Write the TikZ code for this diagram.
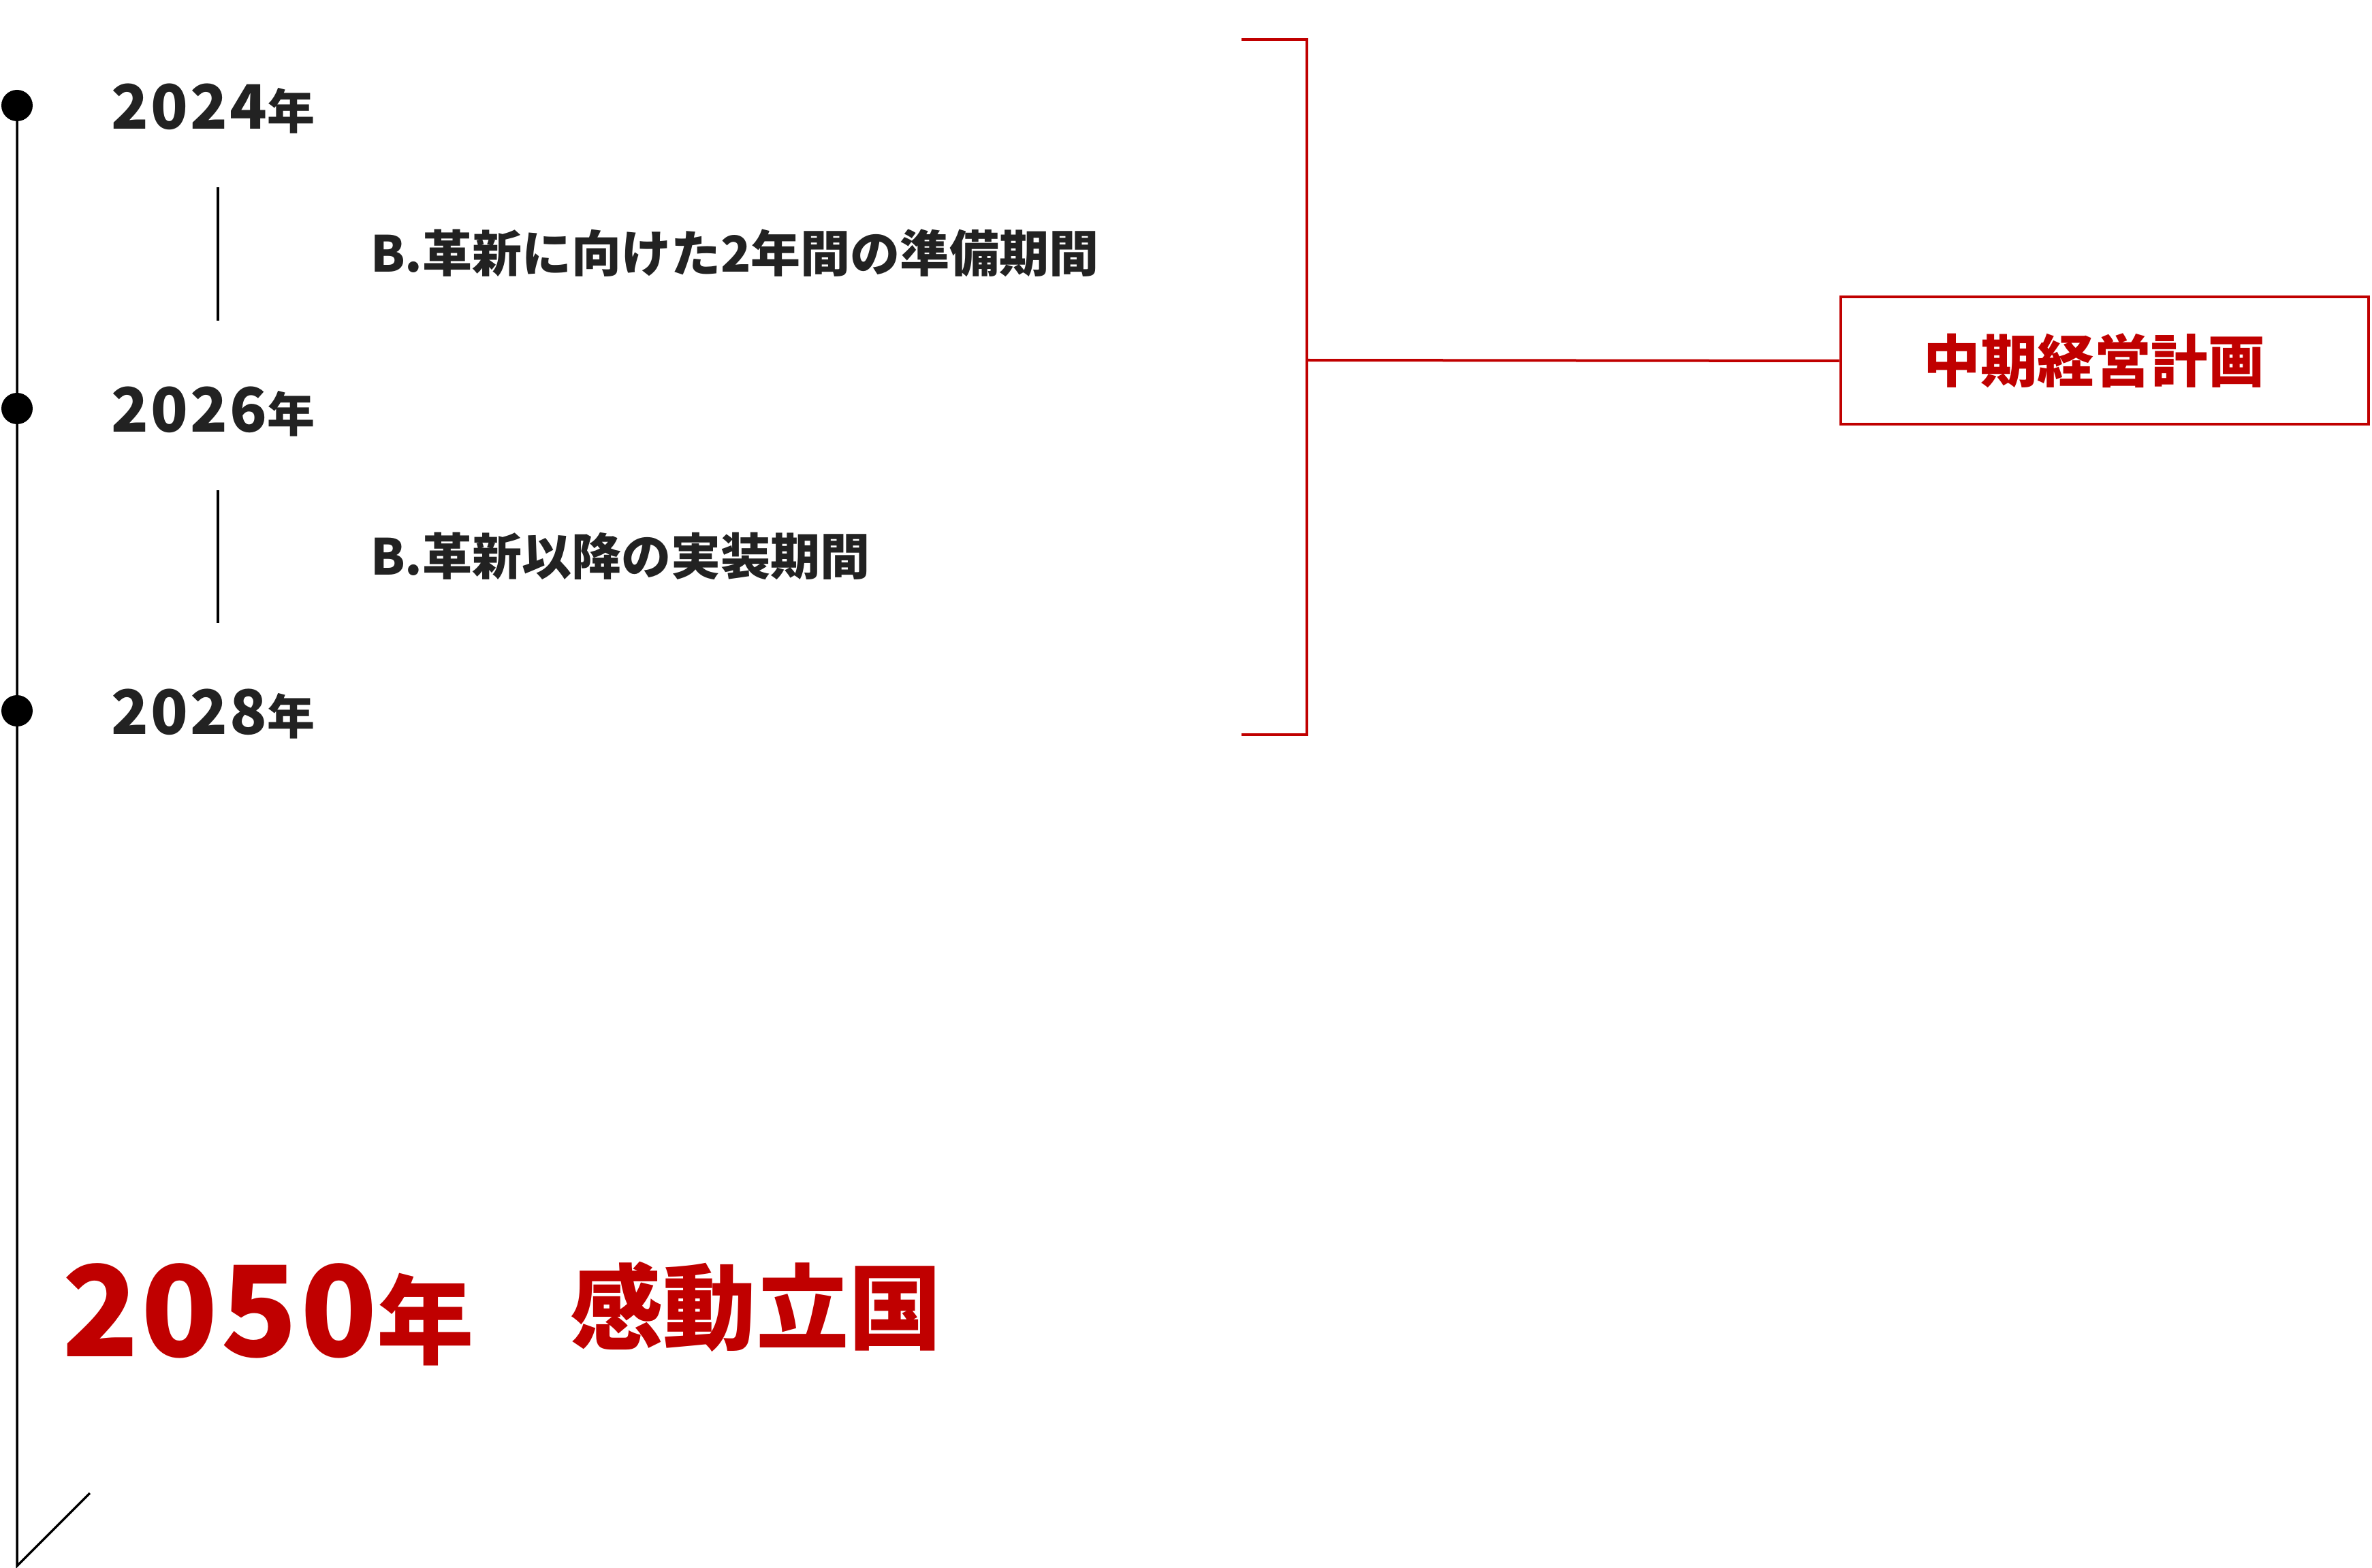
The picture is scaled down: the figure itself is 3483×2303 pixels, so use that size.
\documentclass[tikz,border=0pt]{standalone}
\usepackage{fontspec}
\setmainfont{Noto Sans CJK JP}
\definecolor{planred}{RGB}{192, 0, 0}
\definecolor{yeargray}{RGB}{34, 34, 34}
\usepackage{tikz}
\usetikzlibrary{positioning, calc}

\newcommand{\smallnen}{{\fontsize{14}{14}\selectfont 年}}

\tikzset{
  yearlabel/.style={anchor=base west, inner sep=0pt, text=yeargray,
    font=\bfseries\fontsize{18}{18}\selectfont\addfontfeature{LetterSpace=3.5}},
  phaselabel/.style={anchor=base west, inner sep=0pt, text=yeargray, font=\bfseries\fontsize{14.6}{15}\selectfont},
  yeardot/.style={circle, fill=black, inner sep=0pt, minimum size=9.2pt},
  timeline/.style={draw=black, line width=0.7pt},
  redline/.style={draw=planred, line width=0.8pt},
  planbox/.style={draw=planred, line width=0.8pt, text=planred, minimum width=155pt, minimum height=37.4pt,
    inner sep=0pt, font=\bfseries\fontsize{16.7}{17}\selectfont},
  goalyear/.style={anchor=base west, inner sep=0pt, text=planred,
    font=\bfseries\fontsize{37}{37}\selectfont\addfontfeature{LetterSpace=2.2}},
  goaltext/.style={anchor=base west, inner sep=0pt, text=planred, font=\bfseries\fontsize{27.3}{28}\selectfont}
}

\begin{document}
\begin{tikzpicture}[x=0.2pt, y=-0.2pt]
  \useasboundingbox (0,0) rectangle (3483,2303);

  % timeline
  \node[yeardot] (d24) at (25,155) {};
  \node[yeardot] (d26) at (25,600) {};
  \node[yeardot] (d28) at (25,1044) {};
  \coordinate (tlend) at (25,2300);
  \coordinate (tltip) at (132,2193);
  \draw[timeline] (d24.center) -- (tlend) -- (tltip);

  \node[yearlabel] (y24) at (163,190) {2024\smallnen};
  \node[yearlabel] (y26) at (163,635) {2026\smallnen};
  \node[yearlabel] (y28) at (163,1079) {2028\smallnen};

  % phases
  \coordinate (p1top) at (320,275);
  \coordinate (p1bot) at (320,471);
  \coordinate (p2top) at (320,720);
  \coordinate (p2bot) at (320,915);
  \draw[timeline] (p1top) -- (p1bot);
  \draw[timeline] (p2top) -- (p2bot);
  \node[phaselabel] (ph1) at (543,400) {B.革新に向けた2年間の準備期間};
  \node[phaselabel] (ph2) at (543,845) {B.革新以降の実装期間};

  % plan bracket
  \coordinate (bt) at (1823,58);
  \coordinate (bb) at (1823,1079);
  \coordinate (bmid) at (1919,529);
  \draw[redline] (bt) -| (bmid) |- (bb);
  \node[planbox] (plan) at (3090,530) {\hspace*{-6pt}中期経営計画};
  \draw[redline] (bmid) -- (plan.west);

  % goal
  \node[goalyear] (goal) at (90,1992) {2050{\fontsize{28.5}{28.5}\selectfont 年}};
  \node[goaltext] (vision) at (836,1971) {感動立国};
\end{tikzpicture}
\end{document}
